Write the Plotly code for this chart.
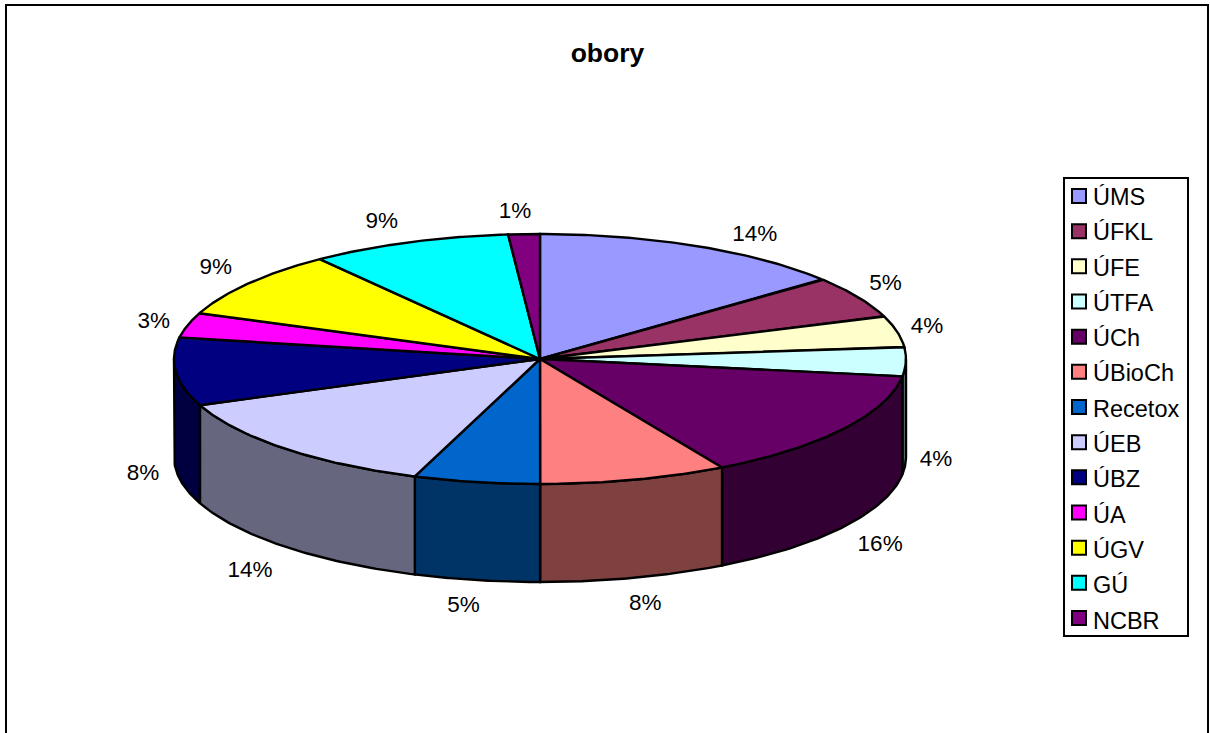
import numpy as np
import plotly.graph_objects as go

# Data
title = "obory"
categories = ["ÚMS", "ÚFKL", "ÚFE", "ÚTFA", "ÚCh", "ÚBioCh", "Recetox", "ÚEB", "ÚBZ", "ÚA", "ÚGV", "GÚ", "NCBR"]
shares = [14, 5.44, 4.03, 3.75, 14.5, 8.28, 5.56, 13.42, 8.78, 3.22, 8.75, 8.89, 1.39]
percent_labels = ["14%", "5%", "4%", "4%", "16%", "8%", "5%", "14%", "8%", "3%", "9%", "9%", "1%"]

# Styles and layout
colors = ["#9999FF", "#993366", "#FFFFCC", "#CCFFFF", "#660066", "#FF8080", "#0066CC",
          "#CCCCFF", "#000080", "#FF00FF", "#FFFF00", "#00FFFF", "#800080"]
W, H = 1210, 733
CX, CY, RX, RY, DEPTH = 540, 359, 366, 125, 98
FONT = "Liberation Sans, Arial, sans-serif"
PIE_LINE = 2.4
label_dx = [59, 28, 30, 30, 37, 11, -13, -35, -33, -34, -33, -27, -9]
label_dy = [-11, -12, -4, 1, 18, 27, 26, 25, 5, -3, -15, -20, -22]
LEG_LEFT, LEG_RIGHT, LEG_TOP, LEG_BOTTOM = 1064, 1188, 178, 636
SWATCH_X, SWATCH_Y0, SWATCH_STEP = 1079, 196, 35.17


def darker(hex_color):
    r, g, b = (int(hex_color[i:i + 2], 16) for i in (1, 3, 5))
    return f"rgb({r // 2},{g // 2},{b // 2})"


def rim(t_deg):
    t = np.radians(t_deg)
    return CX + RX * np.sin(t), CY - RY * np.cos(t)


edges = np.concatenate([[0], np.cumsum(shares)]) / np.sum(shares) * 360
fig = go.Figure()

# Side walls: only the front half of the disc (90..270 degrees) is visible
for i, c in enumerate(colors):
    a, b = max(edges[i], 90), min(edges[i + 1], 270)
    if a >= b:
        continue
    ts = np.linspace(a, b, 60)
    x, y = rim(ts)
    fig.add_trace(go.Scatter(
        x=np.concatenate([x, x[::-1], x[:1]]),
        y=np.concatenate([y, y[::-1] + DEPTH, y[:1]]),
        mode="lines", fill="toself", fillcolor=darker(c),
        line=dict(color="black", width=PIE_LINE), showlegend=False, hoverinfo="skip"))

# Top faces
for i, c in enumerate(colors):
    ts = np.linspace(edges[i], edges[i + 1], 80)
    x, y = rim(ts)
    fig.add_trace(go.Scatter(
        x=np.concatenate([[CX], x, [CX]]),
        y=np.concatenate([[CY], y, [CY]]),
        mode="lines", fill="toself", fillcolor=c,
        line=dict(color="black", width=PIE_LINE), showlegend=False,
        name=categories[i], hoverinfo="name"))

# Percent labels
mids = (edges[:-1] + edges[1:]) / 2
ax, ay = rim(mids)
ay = ay + np.where(np.cos(np.radians(mids)) < 0, DEPTH, 0)
fig.add_trace(go.Scatter(
    x=ax + np.array(label_dx), y=ay + np.array(label_dy),
    mode="text", text=percent_labels, textposition="middle center",
    textfont=dict(family=FONT, size=22.5, color="black"),
    showlegend=False, hoverinfo="skip"))

# Legend swatches, placed closer to the text than the native legend allows
fig.add_trace(go.Scatter(
    x=[SWATCH_X] * len(categories),
    y=[SWATCH_Y0 + SWATCH_STEP * i for i in range(len(categories))],
    mode="markers", showlegend=False, hoverinfo="skip",
    marker=dict(symbol="square", size=14, color=colors, line=dict(color="black", width=2))))

# Native legend entries (text); their own swatches are replaced by the ones above
for name in categories:
    fig.add_trace(go.Scatter(
        x=[None], y=[None], mode="markers", name=name, legendgroup=name,
        marker=dict(symbol="square", size=13, color="rgba(0,0,0,0)",
                    line=dict(color="rgba(0,0,0,0)", width=0))))

fig.update_layout(
    width=W, height=H, margin=dict(l=0, r=0, t=0, b=0),
    paper_bgcolor="white", plot_bgcolor="white",
    title=dict(text=f"<b>{title}</b>", x=607.5 / W, xanchor="center", y=1 - 53 / H, yanchor="middle",
               font=dict(family=FONT, size=26.5, color="black")),
    xaxis=dict(range=[0, W], visible=False, fixedrange=True),
    yaxis=dict(range=[H, 0], visible=False, fixedrange=True),
    shapes=[dict(type="rect", xref="x", yref="y", x0=6, x1=1208, y0=5, y1=H + 20,
                 line=dict(color="black", width=2), fillcolor="rgba(0,0,0,0)", layer="below"),
            dict(type="rect", xref="x", yref="y", x0=LEG_LEFT, x1=LEG_RIGHT, y0=LEG_TOP, y1=LEG_BOTTOM,
                 line=dict(color="black", width=2), fillcolor="white", layer="below")],
    legend=dict(x=1053 / W, y=1 - 174 / H, xanchor="left", yanchor="top",
                borderwidth=0, bgcolor="rgba(0,0,0,0)",
                font=dict(family=FONT, size=23.5, color="black"),
                traceorder="grouped", tracegroupgap=1.75),
    showlegend=True,
)
fig.write_html("out.html", config={"displayModeBar": False},
               post_script="document.body.style.margin='0';document.body.style.overflow='hidden';")
